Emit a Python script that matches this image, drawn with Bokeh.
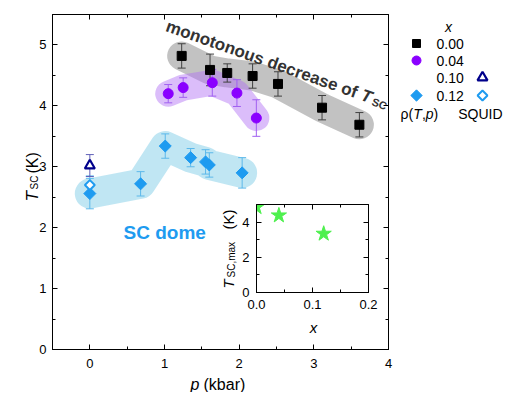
import numpy as np
from bokeh.plotting import figure
from bokeh.models import Range1d, LinearAxis, FixedTicker, Label, PrintfTickFormatter
from bokeh.embed import file_html
from bokeh.resources import INLINE
from bokeh.core.properties import value

# ---------------- data ----------------
p_x00 = [1.23, 1.61, 1.84, 2.18, 2.52, 3.11, 3.61]
T_x00 = [4.82, 4.59, 4.54, 4.49, 4.36, 3.97, 3.69]
e_x00 = [0.20, 0.26, 0.15, 0.20, 0.20, 0.20, 0.20]

p_x04 = [1.05, 1.25, 1.64, 1.97, 2.23]
T_x04 = [4.20, 4.30, 4.38, 4.21, 3.80]
e_x04 = [0.15, 0.16, 0.22, 0.22, 0.30]

p_x12 = [0.00, 0.68, 1.01, 1.35, 1.55, 1.60, 2.04]
T_x12 = [2.56, 2.72, 3.34, 3.15, 3.08, 3.03, 2.90]
e_x12 = [0.25, 0.20, 0.20, 0.15, 0.20, 0.20, 0.25]

p_squid12 = [0.00]
T_squid12 = [2.70]
e_squid12 = [0.15]

p_squid10 = [0.00]
T_squid10 = [3.02]
e_squid10 = [0.18]

x_inset = [0.00, 0.04, 0.12]
Tmax_inset = [4.85, 4.38, 3.34]

x_ticks = [0, 1, 2, 3, 4]
x_minor = [-0.5, 0.5, 1.5, 2.5, 3.5]
y_ticks = [0, 1, 2, 3, 4, 5]
y_minor = [0.5, 1.5, 2.5, 3.5, 4.5]
ix_ticks = [0.0, 0.1, 0.2]
ix_minor = [0.05, 0.15]
iy_ticks = [0, 2, 4]
iy_minor = [1, 3]

legend_labels = ["0.00", "0.04", "0.10", "0.12"]

FONT = "Liberation Sans"
W, H = 489, 380          # main figure
OW, OH = 503, 392        # overlay (page pixel coordinates)


def style_axis(ax, ticks, minor, labels=True, size="13px", standoff=6, fmt=None):
    ax.ticker = FixedTicker(ticks=ticks, minor_ticks=minor)
    ax.major_tick_in = 5
    ax.major_tick_out = 0
    ax.minor_tick_in = 3
    ax.minor_tick_out = 0
    ax.axis_line_color = "black"
    ax.major_tick_line_color = "black"
    ax.minor_tick_line_color = "black"
    ax.major_label_text_font = FONT
    ax.major_label_text_color = "black"
    ax.major_label_text_font_size = size
    if labels:
        ax.major_label_standoff = standoff
        if fmt is not None:
            ax.formatter = fmt
    else:
        ax.major_label_overrides = {t: "" for t in ticks}
        ax.major_label_standoff = 0
    ax.axis_label = None


def lab(fig, x, y, text, size, style="normal", color="black", angle=0.0, align="left",
        baseline="alphabetic"):
    fig.add_layout(Label(x=x, y=y, x_units="screen", y_units="screen", text=text,
                         text_font=FONT, text_font_size=size, text_font_style=style,
                         text_color=color, angle=angle, text_align=align,
                         text_baseline=baseline))


# ---------------- main figure ----------------
p = figure(width=W, height=H, x_range=Range1d(-0.5, 4), y_range=Range1d(0, 5.5),
           output_backend="svg", toolbar_location=None,
           min_border_left=44, min_border_right=109, min_border_top=6, min_border_bottom=39)
p.styles = {"position": "absolute", "left": "8px", "top": "8px"}
p.xgrid.grid_line_color = None
p.ygrid.grid_line_color = None
p.outline_line_color = "black"
p.background_fill_color = "white"
p.border_fill_color = "white"
style_axis(p.xaxis[0], x_ticks, x_minor, standoff=9)
style_axis(p.yaxis[0], y_ticks, y_minor, standoff=6)
top_ax = LinearAxis()
style_axis(top_ax, x_ticks, x_minor, labels=False)
p.add_layout(top_ax, "above")
right_ax = LinearAxis()
style_axis(right_ax, y_ticks, y_minor, labels=False)
p.add_layout(right_ax, "right")

# shaded bands following each series
p.line(p_x00, T_x00, line_width=29, line_color="#999999", line_alpha=0.6,
       line_cap="round", line_join="round")
p.line(p_x04, T_x04, line_width=26, line_color="#b070f5", line_alpha=0.46,
       line_cap="round", line_join="round")
p.line(p_x12, T_x12, line_width=30, line_color="#8fd3ea", line_alpha=0.56,
       line_cap="round", line_join="round")


def errbars(fig, xs, ys, es, color):
    lo = [y - e for y, e in zip(ys, es)]
    hi = [y + e for y, e in zip(ys, es)]
    fig.segment(x0=xs, y0=lo, x1=xs, y1=hi, line_color=color, line_width=1)
    fig.scatter(xs, lo, marker="dash", size=8, line_color=color, line_width=1)
    fig.scatter(xs, hi, marker="dash", size=8, line_color=color, line_width=1)


errbars(p, p_x00, T_x00, e_x00, "#404040")
errbars(p, p_x04, T_x04, e_x04, "#a060f0")
errbars(p, p_x12, T_x12, e_x12, "#5cb8ea")
errbars(p, p_squid12, T_squid12, e_squid12, "#5cb8ea")
errbars(p, p_squid10, T_squid10, e_squid10, "#6060b8")

p.scatter(p_x00, T_x00, marker="square", size=9, fill_color="black", line_color="black")
p.scatter(p_x04, T_x04, marker="circle", size=10, fill_color="#8a00ff", line_color="#8a00ff")
p.scatter(p_x12, T_x12, marker="square", angle=np.pi / 4, size=8.5,
          fill_color="#1e9bf0", line_color="#1e9bf0")
p.scatter(p_squid12, T_squid12, marker="square", angle=np.pi / 4, size=7,
          fill_color="white", line_color="#1e9bf0", line_width=2)
p.scatter(p_squid10, T_squid10, marker="triangle", size=10,
          fill_color="white", line_color="#00008b", line_width=2.2)

# in-frame annotations
theta = np.deg2rad(19.5)
ax0, ay0 = 114.0, 324.0
L = 207.0
lab(p, ax0, ay0, "monotonous decrease of", "17px", style="bold", color="#333333", angle=-theta)
tx, ty = ax0 + L * np.cos(theta), ay0 - L * np.sin(theta)
lab(p, tx, ty, "T", "17px", style="bold italic", color="#333333", angle=-theta)
sx = tx + 10.0 * np.cos(theta) + 3.5 * np.sin(theta)
sy = ty - 10.0 * np.sin(theta) - 3.5 * np.cos(theta)
lab(p, sx, sy, "SC", "11px", style="bold", color="#333333", angle=-theta)
lab(p, 71, 117, "SC dome", "19px", style="bold", color="#1e9bf0")

# ---------------- inset (placed over the main plot) ----------------
ins = figure(width=172, height=130, x_range=Range1d(0, 0.2), y_range=Range1d(0, 5),
             output_backend="svg", toolbar_location=None,
             min_border_left=50, min_border_right=10, min_border_top=4, min_border_bottom=38)
ins.styles = {"position": "absolute", "left": "206px", "top": "200px"}
ins.xgrid.grid_line_color = None
ins.ygrid.grid_line_color = None
ins.outline_line_color = "black"
ins.background_fill_color = "white"
ins.border_fill_color = None
style_axis(ins.xaxis[0], ix_ticks, ix_minor, standoff=7, fmt=PrintfTickFormatter(format="%.1f"))
style_axis(ins.yaxis[0], iy_ticks, iy_minor, standoff=7)
itop = LinearAxis()
style_axis(itop, ix_ticks, ix_minor, labels=False)
ins.add_layout(itop, "above")
iright = LinearAxis()
style_axis(iright, iy_ticks, iy_minor, labels=False)
ins.add_layout(iright, "right")
ins.scatter(x_inset, Tmax_inset, marker="star", size=16, fill_color="#4ef04e", line_color="#4ef04e")

# ---------------- overlay (titles + legend), page pixel coordinates ----------------
ov = figure(width=OW, height=OH, x_range=Range1d(0, OW), y_range=Range1d(OH, 0),
            x_axis_type=None, y_axis_type=None, output_backend="svg", toolbar_location=None,
            min_border=0)
ov.styles = {"position": "absolute", "left": "0px", "top": "0px"}
ov.outline_line_color = None
ov.background_fill_color = None
ov.border_fill_color = None
ov.xgrid.grid_line_color = None
ov.ygrid.grid_line_color = None


def ovtext(x, y, t, size, style="normal", align="left", baseline="alphabetic", angle=0.0):
    ov.text(x=[x], y=[y], text=[t], text_font=value(FONT), text_font_size=size,
            text_font_style=style, text_align=align, text_baseline=baseline,
            angle=angle, text_color="black")


# main axis titles
ovtext(32, 201, "T", "17px", style="italic", angle=np.pi / 2)
ovtext(34, 189, "SC", "10px", angle=np.pi / 2)
ovtext(32, 173, "(K)", "16px", angle=np.pi / 2)
ovtext(190, 384, "p", "16px", style="italic")
ovtext(203, 384, "(kbar)", "16px")
# inset axis titles
ovtext(228, 288, "T", "15px", style="italic", angle=np.pi / 2)
ovtext(231, 277, "SC,max", "10px", angle=np.pi / 2)
ovtext(228, 229, "(K)", "15px", angle=np.pi / 2)
ovtext(313, 327, "x", "15px", style="italic", align="center")

# legend
row_y = [43, 60, 77, 95]
ovtext(448, 26, "x", "14px", style="italic", align="center", baseline="middle")
ov.text(x=[436] * 4, y=row_y, text=legend_labels, text_font=value(FONT), text_font_size="14px",
        text_align="left", text_baseline="middle")
ov.scatter([416], [row_y[0]], marker="square", size=8, fill_color="black", line_color="black")
ov.scatter([416], [row_y[1]], marker="circle", size=9, fill_color="#8a00ff", line_color="#8a00ff")
ov.scatter([482], [row_y[2]], marker="triangle", size=10, fill_color="white",
           line_color="#00008b", line_width=2.2)
ov.scatter([416], [row_y[3]], marker="square", angle=np.pi / 4, size=8,
           fill_color="#1e9bf0", line_color="#1e9bf0")
ov.scatter([482], [row_y[3]], marker="square", angle=np.pi / 4, size=7,
           fill_color="white", line_color="#1e9bf0", line_width=2)
ov.text(x=[400, 421.4, 433.1], y=[113] * 3, text=["ρ(", ",", ")"], text_font=value(FONT),
        text_font_size="14px", text_baseline="middle")
ov.text(x=[412.8, 425.3], y=[113] * 2, text=["T", "p"], text_font=value(FONT),
        text_font_size="14px", text_font_style="italic", text_baseline="middle")
ov.text(x=[502], y=[113], text=["SQUID"], text_font=value(FONT), text_font_size="14px",
        text_align="right", text_baseline="middle")

open("out.html", "w").write(file_html([p, ins, ov], INLINE))
